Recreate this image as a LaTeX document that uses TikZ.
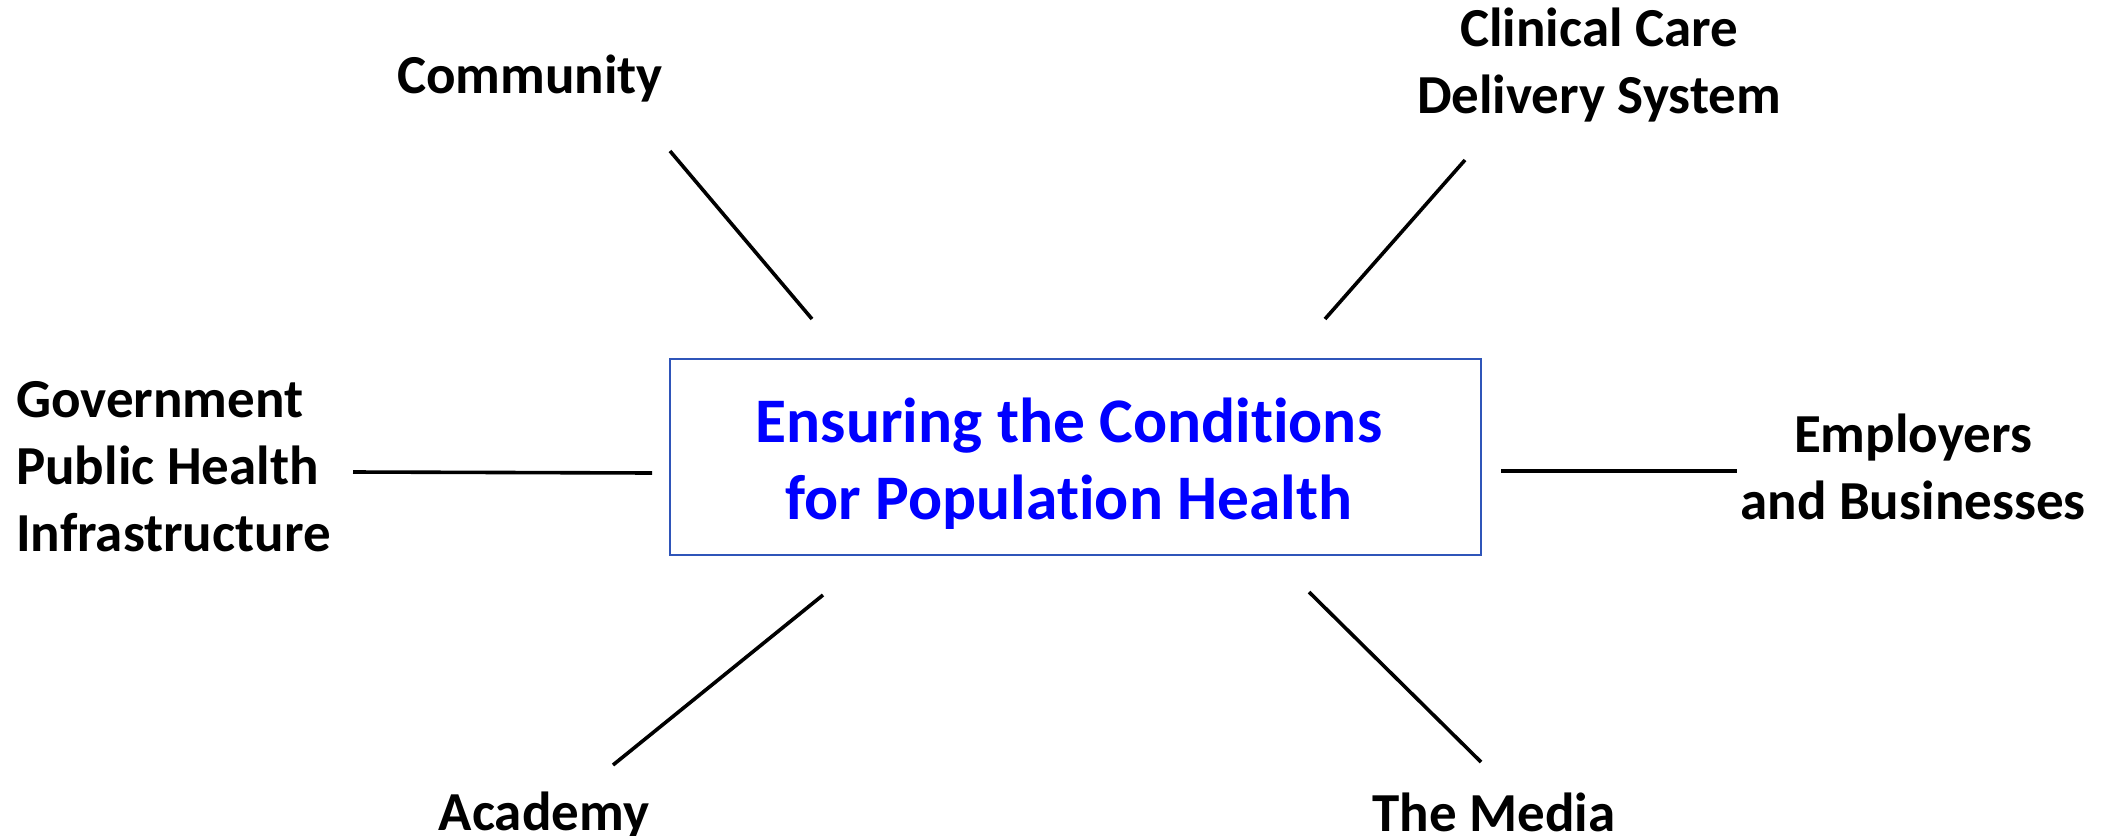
\documentclass[tikz,border=0pt]{standalone}
\usepackage{fontspec}
\setmainfont{Carlito}[Ligatures=NoCommon]
\definecolor{boxblue}{RGB}{47,85,185}
\definecolor{textblue}{RGB}{0,0,255}
\begin{document}
\begin{tikzpicture}[x=1pt,y=-1pt,
  lbl/.style={font=\bfseries\fontsize{55}{67}\selectfont, inner sep=0pt, align=center},
  conn/.style={line width=3.6pt, black},
  mainbox/.style={draw=boxblue, line width=2pt, minimum width=811pt, minimum height=196pt, inner sep=0pt,
     font=\bfseries\fontsize{63.5}{77}\selectfont, text=textblue, align=center}]
\useasboundingbox (0,0) rectangle (2111,835);
\node[mainbox] (center) at (1075.5,457) {};
\node[font=\bfseries\fontsize{63.5}{77}\selectfont, text=textblue, align=center, inner sep=0pt] (title) at (1069,464) {Ensuring the Conditions\\for Population Health};
\node[lbl] (community) at (530,79) {Community};
\node[lbl] (clinical) at (1599,65) {Clinical Care\\Delivery System};
\node[lbl, align=left, anchor=west] (gov) at (16,467) {Government\\Public Health\\Infrastructure};
\node[lbl] (employers) at (1913,467) {Employers\\and Businesses};
\node[lbl] (academy) at (544,816) {Academy};
\node[lbl] (media) at (1494,812) {The Media};
\coordinate (c1a) at (670,151); \coordinate (c1b) at (812,319);
\coordinate (c2a) at (1465,160); \coordinate (c2b) at (1325,319);
\coordinate (c3a) at (353,472); \coordinate (c3b) at (652,473);
\coordinate (c4a) at (1501,471); \coordinate (c4b) at (1737,471);
\coordinate (c5a) at (823,595); \coordinate (c5b) at (613,765);
\coordinate (c6a) at (1309,592); \coordinate (c6b) at (1481,762);
\draw[conn] (c1a) -- (c1b);
\draw[conn] (c2a) -- (c2b);
\draw[conn] (c3a) -- (c3b);
\draw[conn] (c4a) -- (c4b);
\draw[conn] (c5a) -- (c5b);
\draw[conn] (c6a) -- (c6b);
\end{tikzpicture}
\end{document}
